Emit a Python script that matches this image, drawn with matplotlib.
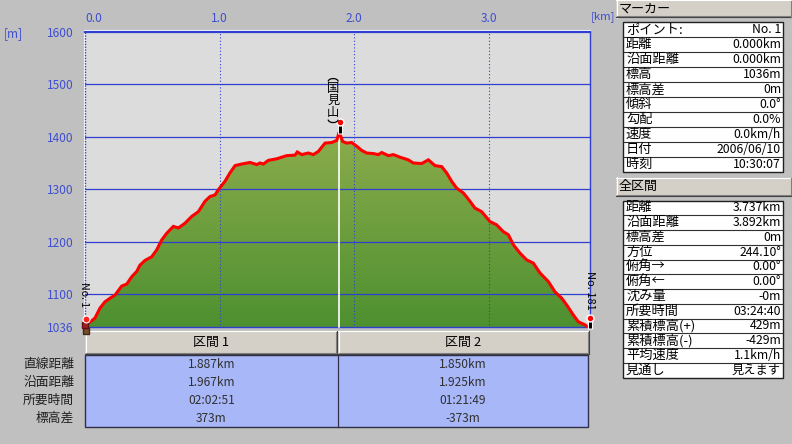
import numpy as np
import matplotlib
matplotlib.use('Agg')
import matplotlib.pyplot as plt
from matplotlib.patches import Rectangle, Polygon, Arc
from matplotlib.colors import LinearSegmentedColormap
import matplotlib.transforms as mtransforms

plt.rcParams['font.family'] = ['Noto Sans CJK JP', 'DejaVu Sans']

# ---------------- data ----------------
dist_km = [0.000, 0.025, 0.074, 0.111, 0.148, 0.186, 0.223, 0.272, 0.310, 0.347,
           0.384, 0.408, 0.445, 0.495, 0.532, 0.569, 0.607, 0.656, 0.693, 0.742,
           0.792, 0.841, 0.891, 0.928, 0.965, 0.990, 1.039, 1.076, 1.114, 1.163,
           1.225, 1.275, 1.299, 1.324, 1.361, 1.423, 1.497, 1.559, 1.576, 1.609,
           1.658, 1.695, 1.732, 1.782, 1.831, 1.869, 1.887, 1.913, 1.943, 1.980,
           2.017, 2.054, 2.091, 2.140, 2.177, 2.203, 2.252, 2.289, 2.339, 2.400,
           2.437, 2.500, 2.549, 2.598, 2.648, 2.685, 2.722, 2.759, 2.808, 2.843,
           2.895, 2.945, 3.007, 3.056, 3.105, 3.143, 3.180, 3.229, 3.279, 3.328,
           3.378, 3.439, 3.489, 3.539, 3.576, 3.625, 3.662, 3.712, 3.737]
elev_m = [1036, 1044, 1054, 1073, 1085, 1092, 1098, 1115, 1119, 1133,
          1143, 1155, 1164, 1171, 1184, 1203, 1216, 1229, 1226, 1235,
          1248, 1257, 1277, 1286, 1289, 1299, 1315, 1331, 1345, 1348,
          1351, 1347, 1350, 1348, 1355, 1358, 1364, 1365, 1371, 1366,
          1369, 1366, 1372, 1388, 1389, 1393, 1409, 1391, 1388, 1389,
          1382, 1374, 1369, 1368, 1366, 1370, 1364, 1366, 1361, 1356,
          1350, 1349, 1356, 1345, 1343, 1331, 1315, 1302, 1293, 1282,
          1264, 1257, 1238, 1232, 1219, 1213, 1194, 1178, 1165, 1159,
          1140, 1124, 1104, 1092, 1079, 1060, 1047, 1041, 1036]

y_ticks = [1036, 1100, 1200, 1300, 1400, 1500, 1600]
y_tick_labels = ['1036', '1100', '1200', '1300', '1400', '1500', '1600']
x_ticks = [0.0, 1.0, 2.0, 3.0]
x_tick_labels = ['0.0', '1.0', '2.0', '3.0']
y_unit = '[m]'
x_unit = '[km]'
peak_name_chars = ['国', '見', '山']
start_label = 'No. 1'
end_label = 'No. 181'

section_names = ['区間 1', '区間 2']
section_row_labels = ['直線距離', '沿面距離', '所要時間', '標高差']
section1_values = ['1.887km', '1.967km', '02:02:51', '373m']
section2_values = ['1.850km', '1.925km', '01:21:49', '-373m']

marker_title = 'マーカー'
marker_labels = ['ポイント:', '距離', '沿面距離', '標高', '標高差', '傾斜', '勾配',
                 '速度', '日付', '時刻']
marker_values = ['No. 1', '0.000km', '0.000km', '1036m', '0m', '0.0°', '0.0%',
                 '0.0km/h', '2006/06/10', '10:30:07']
total_title = '全区間'
total_labels = ['距離', '沿面距離', '標高差', '方位', '俯角→', '俯角←', '沈み量',
                '所要時間', '累積標高(+)', '累積標高(-)', '平均速度', '見通し']
total_values = ['3.737km', '3.892km', '0m', '244.10°', '0.00°', '0.00°', '-0m',
                '03:24:40', '429m', '-429m', '1.1km/h', '見えます']

# ---------------- style ----------------
W, H = 792, 444
BG = '#c0c0c0'
PLOT_BG = '#dcdcdc'
BLUE = '#2f3fd2'
TICK_BLUE = '#3f4fd0'
BTN = '#d4d0c8'
TABLE_BLUE = '#a7b7f7'

fig = plt.figure(figsize=(W / 100, H / 100), dpi=100)
fig.patch.set_facecolor(BG)

ov = fig.add_axes([0, 0, 1, 1], zorder=0)
ov.set_xlim(0, W)
ov.set_ylim(H, 0)
ov.axis('off')


def px_box(l, t, r, b):
    return [l / W, 1 - b / H, (r - l) / W, (b - t) / H]


L, T, R, B = 85, 32, 590, 327.5
ax = fig.add_axes(px_box(L, T, R, B), zorder=2)
ax.set_facecolor(PLOT_BG)
ax.set_xlim(0, (R - L) / 134.7)
ax.set_ylim(1036, 1600)
for s in ax.spines.values():
    s.set_visible(False)

# gradient fill under profile
cmap = LinearSegmentedColormap.from_list('g', ['#4e9030', '#8cac4c'])
grad = np.linspace(0, 1, 256).reshape(-1, 1)
im = ax.imshow(grad, extent=[dist_km[0], dist_km[-1], 1036, max(elev_m)],
               origin='lower', aspect='auto', cmap=cmap, zorder=1)
poly = Polygon(list(zip(dist_km, elev_m)) + [(dist_km[-1], 1036), (dist_km[0], 1036)],
               closed=True, facecolor='none', edgecolor='none', transform=ax.transData)
ax.add_patch(poly)
im.set_clip_path(poly)

# grid
for yv in y_ticks[1:-1]:
    ax.axhline(yv, color=BLUE, lw=0.9, zorder=2)
for xv in x_ticks[1:]:
    ax.axvline(xv, color=BLUE, lw=0.8, ls=(0, (1, 2)), zorder=2)

# borders
ax.axhline(1600, color=BLUE, lw=1.6, zorder=5, clip_on=False)
ax.axhline(1036, color=BLUE, lw=1.0, zorder=2, clip_on=False)
ax.axvline(0, color=BLUE, lw=1.0, ls=(0, (1, 1)), zorder=5, clip_on=False)
ax.axvline(ax.get_xlim()[1], color=BLUE, lw=1.0, zorder=5, clip_on=False)
ov.plot([84, 590], [30.5, 30.5], color='white', lw=0.8)
ov.plot([83.8, 83.8], [30.5, 328], color='white', lw=0.8)

# peak white line
ipk = int(np.argmax(elev_m))
pk_x, pk_y = dist_km[ipk], elev_m[ipk]
ax.plot([pk_x, pk_x], [1036, pk_y], color='white', lw=1.2, zorder=3)

# profile line
ax.plot(dist_km, elev_m, color='#ff0000', lw=2.2, zorder=4, solid_joinstyle='miter',
        solid_capstyle='butt')

# ticks
ax.set_yticks(y_ticks)
ax.set_yticklabels(y_tick_labels, color=TICK_BLUE, fontsize=8.6)
ax.tick_params(axis='y', length=0, pad=8)
ax.xaxis.tick_top()
ax.set_xticks(x_ticks)
ax.set_xticklabels(x_tick_labels, color=TICK_BLUE, fontsize=8.6)
ax.tick_params(axis='x', length=0, pad=5)
xl = ax.get_xticklabels()
xl[0].set_horizontalalignment('left')
ov.text(4, 34, y_unit, color=TICK_BLUE, fontsize=8.6, ha='left', va='center')
ov.text(591, 17, x_unit, color=TICK_BLUE, fontsize=8.2, ha='left', va='center')


def off(dx, dy):
    return mtransforms.offset_copy(ax.transData, fig=fig, x=dx, y=dy, units='dots')


# peak pin + name
ax.plot([pk_x], [pk_y], transform=off(1, 4), marker='|', ms=8, mew=3.5, color='white',
        zorder=6, clip_on=False)
ax.plot([pk_x], [pk_y], transform=off(1, 4), marker='|', ms=7, mew=2.2, color='black',
        zorder=7, clip_on=False)
ax.plot([pk_x], [pk_y], transform=off(1, 10), marker='o', ms=5, mfc='#ff0000',
        mec='white', mew=1.0, zorder=8, clip_on=False)
char_dy = [44, 31.5, 19.5]
for ch, dy in zip(peak_name_chars, char_dy):
    ax.text(pk_x, pk_y, ch, transform=off(-6, dy), ha='center', va='center',
            fontsize=8.8, color='black', zorder=9, clip_on=False)
# vertical-form brackets around the name (drawn in display pixels)
pk_disp = ax.transData.transform((pk_x, pk_y))
ident = mtransforms.IdentityTransform()
for dy, t1, t2 in [(50.5, 0, 180), (12.5, 180, 360)]:
    arc = Arc((pk_disp[0] - 6, pk_disp[1] + dy), 10, 6, theta1=t1, theta2=t2,
              transform=ident, color='black', lw=0.9, zorder=9)
    fig.add_artist(arc)

# start marker (hiker)
sx, sy = dist_km[0], elev_m[0]
ax.plot([sx], [sy], transform=off(1, -4), marker='s', ms=4, mfc='#7a4a2a', mec='#3a2a1a',
        zorder=8, clip_on=False)
ax.plot([sx], [sy], transform=off(0, 2), marker='s', ms=4.5, mfc='#a02020', mec='#601010',
        zorder=8, clip_on=False)
ax.plot([sx], [sy], transform=off(1, 8), marker='o', ms=5, mfc='#ff2020', mec='white',
        mew=0.8, zorder=9, clip_on=False)
ax.text(sx, sy, start_label, transform=off(-1, 33), rotation=-90, ha='center',
        va='center', fontsize=7.6, color='black', zorder=9, clip_on=False)

# end marker
ex, ey = dist_km[-1], elev_m[-1]
ax.plot([ex], [ey], transform=off(1.6, 4), marker='|', ms=8, mew=3.8, color='white',
        zorder=7, clip_on=False)
ax.plot([ex], [ey], transform=off(1.6, 4), marker='|', ms=7, mew=2.2, color='black',
        zorder=8, clip_on=False)
ax.plot([ex], [ey], transform=off(1.6, 9.5), marker='o', ms=5, mfc='#ff0000', mec='white',
        mew=1.0, zorder=9, clip_on=False)
ax.text(ex, ey, end_label, transform=off(2, 37), rotation=-90, ha='center', va='center',
        fontsize=8.0, color='black', zorder=9, clip_on=False)


# ---------------- UI elements ----------------
def button(x0, y0, x1, y1, text=None, tx=None, ha='center'):
    ov.add_patch(Rectangle((x0, y0), x1 - x0, y1 - y0, facecolor=BTN, edgecolor='none'))
    ov.plot([x0, x1], [y0 + 0.5, y0 + 0.5], color='white', lw=0.8)
    ov.plot([x0 + 0.5, x0 + 0.5], [y0, y1], color='white', lw=0.8)
    ov.plot([x0, x1], [y1 - 0.5, y1 - 0.5], color='#404040', lw=0.8)
    ov.plot([x1 - 0.5, x1 - 0.5], [y0, y1], color='#404040', lw=0.8)
    ov.plot([x0 + 1, x1 - 1], [y1 - 1.5, y1 - 1.5], color='#808080', lw=0.8)
    ov.plot([x1 - 1.5, x1 - 1.5], [y0 + 1, y1 - 1], color='#808080', lw=0.8)
    if text is not None:
        xx = (x0 + x1) / 2 if tx is None else tx
        ov.text(xx, (y0 + y1) / 2, text, ha=ha, va='center', fontsize=9.4, color='black')


# section buttons
button(85, 330.5, 337, 354, section_names[0])
button(338, 330.5, 589, 354, section_names[1])

# blue table
ov.add_patch(Rectangle((85, 354.5), 503, 72.5, facecolor=TABLE_BLUE, edgecolor='#303048',
                       lw=1.0))
ov.plot([338, 338], [354.5, 427], color='#303048', lw=0.9)
row_y = [364, 382, 400, 418]
for lab, v1, v2, yy in zip(section_row_labels, section1_values, section2_values, row_y):
    ov.text(74, yy, lab, ha='right', va='center', fontsize=9.2, color='#202020')
    ov.text(211.5, yy, v1, ha='center', va='center', fontsize=8.6, color='#303030')
    ov.text(463, yy, v2, ha='center', va='center', fontsize=8.6, color='#303030')


# right panel
def info_table(y_top, row_h, labels, values):
    n = len(labels)
    ov.add_patch(Rectangle((623, y_top), 160, row_h * n, facecolor='white',
                           edgecolor='#202020', lw=1.0))
    for i in range(1, n):
        yy = y_top + i * row_h
        ov.plot([623, 783], [yy, yy], color='#303030', lw=0.8)
    for i, (lab, val) in enumerate(zip(labels, values)):
        yc = y_top + (i + 0.5) * row_h
        ov.text(626, yc, lab, ha='left', va='center', fontsize=9.5, color='black')
        ov.text(781, yc, val, ha='right', va='center', fontsize=8.8, color='black')


button(616, 0, 792, 18, marker_title, tx=619, ha='left')
info_table(22.5, 14.97, marker_labels, marker_values)
button(616, 177.5, 792, 196, total_title, tx=619, ha='left')
info_table(200.5, 14.75, total_labels, total_values)

fig.savefig('out.png', dpi=100, facecolor=BG)
